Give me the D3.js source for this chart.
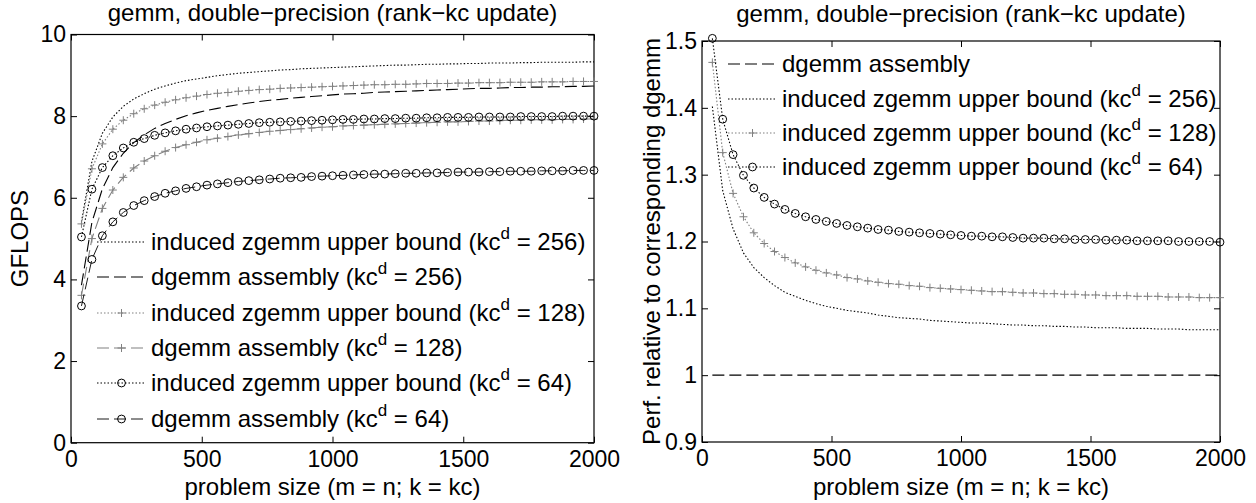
<!DOCTYPE html>
<html>
<head>
<meta charset="utf-8">
<script src="https://cdn.jsdelivr.net/npm/d3@7"></script>
<style>
  body { margin: 0; background: #fff; }
  svg { display: block; }
</style>
</head>
<body>
<svg id="chart" width="1256" height="503"></svg>
<script>
// problem sizes (m = n), shared by every curve
const sizes = [40, 80, 120, 160, 200, 240, 280, 320, 360, 400, 440, 480, 520, 560, 600, 640, 680, 720, 760, 800,
  840, 880, 920, 960, 1000, 1040, 1080, 1120, 1160, 1200, 1240, 1280, 1320, 1360, 1400, 1440, 1480, 1520, 1560, 1600,
  1640, 1680, 1720, 1760, 1800, 1840, 1880, 1920, 1960, 2000];

// left panel: GFLOPS
const zgemmBound256 = [5.41, 6.89, 7.58, 7.98, 8.24, 8.42, 8.55, 8.66, 8.74, 8.81, 8.87, 8.91, 8.95, 8.99, 9.02, 9.05, 9.07, 9.09, 9.11, 9.13,
  9.14, 9.16, 9.17, 9.18, 9.19, 9.20, 9.21, 9.22, 9.23, 9.24, 9.25, 9.25, 9.26, 9.27, 9.27, 9.28, 9.28, 9.29, 9.29, 9.30,
  9.30, 9.30, 9.31, 9.31, 9.32, 9.32, 9.32, 9.32, 9.33, 9.33];
const dgemm256 = [3.86, 5.40, 6.22, 6.74, 7.09, 7.35, 7.54, 7.70, 7.82, 7.92, 8.01, 8.08, 8.14, 8.19, 8.24, 8.28, 8.32, 8.36, 8.39, 8.41,
  8.44, 8.46, 8.48, 8.50, 8.52, 8.54, 8.55, 8.56, 8.58, 8.59, 8.60, 8.61, 8.62, 8.63, 8.64, 8.65, 8.66, 8.67, 8.68, 8.68,
  8.69, 8.70, 8.70, 8.71, 8.71, 8.72, 8.72, 8.73, 8.73, 8.74];
const zgemmBound128 = [5.36, 6.71, 7.32, 7.68, 7.90, 8.06, 8.18, 8.27, 8.34, 8.40, 8.45, 8.49, 8.53, 8.56, 8.58, 8.61, 8.63, 8.65, 8.66, 8.68,
  8.69, 8.70, 8.71, 8.72, 8.73, 8.74, 8.75, 8.76, 8.77, 8.77, 8.78, 8.78, 8.79, 8.80, 8.80, 8.80, 8.81, 8.81, 8.82, 8.82,
  8.82, 8.83, 8.83, 8.83, 8.84, 8.84, 8.84, 8.85, 8.85, 8.85];
const dgemm128 = [3.61, 5.00, 5.74, 6.19, 6.50, 6.73, 6.90, 7.03, 7.14, 7.23, 7.30, 7.36, 7.42, 7.46, 7.50, 7.54, 7.57, 7.60, 7.63, 7.65,
  7.67, 7.69, 7.71, 7.73, 7.74, 7.76, 7.77, 7.78, 7.79, 7.80, 7.81, 7.82, 7.83, 7.84, 7.85, 7.86, 7.86, 7.87, 7.88, 7.88,
  7.89, 7.90, 7.90, 7.91, 7.91, 7.91, 7.92, 7.92, 7.93, 7.93];
const zgemmBound64 = [5.04, 6.21, 6.74, 7.03, 7.22, 7.36, 7.45, 7.53, 7.59, 7.64, 7.68, 7.71, 7.74, 7.76, 7.78, 7.80, 7.82, 7.84, 7.85, 7.86,
  7.87, 7.88, 7.89, 7.90, 7.91, 7.92, 7.92, 7.93, 7.93, 7.94, 7.94, 7.95, 7.95, 7.96, 7.96, 7.97, 7.97, 7.97, 7.98, 7.98,
  7.98, 7.98, 7.99, 7.99, 7.99, 7.99, 8.00, 8.00, 8.00, 8.00];
const dgemm64 = [3.35, 4.49, 5.07, 5.41, 5.64, 5.81, 5.93, 6.03, 6.11, 6.17, 6.23, 6.27, 6.31, 6.34, 6.37, 6.40, 6.42, 6.44, 6.46, 6.48,
  6.49, 6.50, 6.52, 6.53, 6.54, 6.55, 6.56, 6.57, 6.58, 6.58, 6.59, 6.60, 6.60, 6.61, 6.61, 6.62, 6.63, 6.63, 6.63, 6.64,
  6.64, 6.65, 6.65, 6.65, 6.66, 6.66, 6.66, 6.67, 6.67, 6.67];

// right panel: performance relative to the matching dgemm
const relDgemm = [1, 1, 1, 1, 1, 1, 1, 1, 1, 1, 1, 1, 1, 1, 1, 1, 1, 1, 1, 1,
  1, 1, 1, 1, 1, 1, 1, 1, 1, 1, 1, 1, 1, 1, 1, 1, 1, 1, 1, 1,
  1, 1, 1, 1, 1, 1, 1, 1, 1, 1];
const relBound256 = [1.402, 1.276, 1.219, 1.183, 1.161, 1.146, 1.134, 1.124, 1.118, 1.112, 1.107, 1.103, 1.100, 1.097, 1.095, 1.093, 1.090, 1.088, 1.086, 1.085,
  1.084, 1.082, 1.081, 1.080, 1.079, 1.078, 1.078, 1.077, 1.076, 1.075, 1.075, 1.074, 1.074, 1.073, 1.073, 1.072, 1.072, 1.071, 1.071, 1.071,
  1.070, 1.070, 1.070, 1.069, 1.069, 1.069, 1.068, 1.068, 1.068, 1.068];
const relBound128 = [1.468, 1.333, 1.272, 1.237, 1.213, 1.197, 1.185, 1.176, 1.168, 1.162, 1.157, 1.153, 1.150, 1.146, 1.144, 1.141, 1.139, 1.137, 1.136, 1.134,
  1.133, 1.131, 1.130, 1.129, 1.128, 1.127, 1.126, 1.125, 1.125, 1.124, 1.123, 1.123, 1.122, 1.122, 1.121, 1.121, 1.120, 1.120, 1.119, 1.119,
  1.119, 1.118, 1.118, 1.118, 1.117, 1.117, 1.117, 1.116, 1.116, 1.116];
const relBound64 = [1.504, 1.383, 1.330, 1.299, 1.280, 1.266, 1.256, 1.248, 1.242, 1.237, 1.233, 1.230, 1.227, 1.224, 1.222, 1.220, 1.218, 1.217, 1.215, 1.214,
  1.213, 1.212, 1.211, 1.210, 1.209, 1.208, 1.208, 1.207, 1.207, 1.206, 1.205, 1.205, 1.205, 1.204, 1.204, 1.203, 1.203, 1.203, 1.202, 1.202,
  1.202, 1.201, 1.201, 1.201, 1.201, 1.200, 1.200, 1.200, 1.200, 1.199];

const xTicks = [0, 500, 1000, 1500, 2000];
const gflopsTicks = [0, 2, 4, 6, 8, 10];
const relTicks = [0.9, 1, 1.1, 1.2, 1.3, 1.4, 1.5];

const FONT = "'Liberation Sans', Arial, Helvetica, sans-serif";
const FS = 24;      // titles, labels, legend
const TICK_FS = 23; // tick labels
const GRAY = "#808080";
const DOTTED = "1.5,2";
const DASHED = "12,5";

const svg = d3.select("#chart").attr("font-family", FONT);

function drawPanel(cfg) {
  const x = d3.scaleLinear().domain([0, 2000]).range([cfg.left, cfg.right]);
  const y = d3.scaleLinear().domain(cfg.yDomain).range([cfg.bottom, cfg.top]);
  const g = svg.append("g");

  // MATLAB-style box: ticks point inwards on all four sides
  const axes = [
    [d3.axisBottom(x).tickValues(xTicks).tickPadding(8).tickFormat(d3.format("d")), `translate(0,${cfg.bottom})`],
    [d3.axisTop(x).tickValues(xTicks).tickFormat(""), `translate(0,${cfg.top})`],
    [d3.axisLeft(y).tickValues(cfg.yTicks).tickPadding(5).tickFormat(d => String(d)), `translate(${cfg.left},0)`],
    [d3.axisRight(y).tickValues(cfg.yTicks).tickFormat(""), `translate(${cfg.right},0)`]
  ];
  axes.forEach(([ax, tr]) => {
    g.append("g")
      .attr("transform", tr)
      .call(ax.tickSizeInner(-6).tickSizeOuter(0))
      .attr("font-size", TICK_FS)
      .attr("font-family", FONT);
  });
  g.selectAll(".domain").remove();
  g.selectAll(".tick line").attr("stroke", "#000").attr("stroke-width", 1);
  g.selectAll(".tick text").attr("fill", "#000");

  g.append("rect")
    .attr("x", cfg.left).attr("y", cfg.top)
    .attr("width", cfg.right - cfg.left).attr("height", cfg.bottom - cfg.top)
    .attr("fill", "none").attr("stroke", "#000").attr("stroke-width", 1.2);

  const line = d3.line().x((d, i) => x(sizes[i])).y(d => y(d));

  cfg.series.forEach(s => {
    g.append("path")
      .attr("d", line(s.values))
      .attr("fill", "none")
      .attr("stroke", s.color)
      .attr("stroke-width", s.width || 1.1)
      .attr("stroke-dasharray", s.dash);
    if (s.marker) {
      g.append("g").selectAll("path")
        .data(s.values)
        .join("path")
        .attr("transform", (d, i) => `translate(${x(sizes[i])},${y(d)})`)
        .attr("d", s.marker === "o" ? d3.symbol(d3.symbolCircle, 48)() : "M-4,0H4M0,-4V4")
        .attr("fill", "none")
        .attr("stroke", s.color)
        .attr("stroke-width", 1);
    }
  });

  // legend (no box), one row per series
  const lg = cfg.legend;
  cfg.series.forEach((s, i) => {
    const ly = lg.y[i];
    g.append("line")
      .attr("x1", lg.x0).attr("x2", lg.x1).attr("y1", ly).attr("y2", ly)
      .attr("stroke", s.color).attr("stroke-width", s.width || 1.1)
      .attr("stroke-dasharray", s.dash);
    if (s.marker) {
      g.append("path")
        .attr("transform", `translate(${(lg.x0 + lg.x1) / 2},${ly})`)
        .attr("d", s.marker === "o" ? d3.symbol(d3.symbolCircle, 48)() : "M-4,0H4M0,-4V4")
        .attr("fill", "none").attr("stroke", s.color);
    }
    const t = g.append("text")
      .attr("x", lg.x1 + 5).attr("y", ly).attr("dy", "0.35em")
      .attr("font-size", FS).attr("fill", "#000");
    t.append("tspan").text(s.label);
    if (s.kc) {
      t.append("tspan").text(" (kc");
      t.append("tspan").attr("font-size", 17).attr("dy", -11).text("d");
      t.append("tspan").attr("dy", 11).text(` = ${s.kc})`);
    }
  });

  // titles and axis labels
  g.append("text")
    .attr("x", (cfg.left + cfg.right) / 2).attr("y", cfg.titleY)
    .attr("text-anchor", "middle").attr("font-size", FS)
    .text("gemm, double\u2212precision (rank\u2212kc update)");
  g.append("text")
    .attr("x", (cfg.left + cfg.right) / 2).attr("y", 495)
    .attr("text-anchor", "middle").attr("font-size", FS)
    .text("problem size (m = n; k = kc)");
  g.append("text")
    .attr("transform", `translate(${cfg.yLabelX},${(cfg.top + cfg.bottom) / 2}) rotate(-90)`)
    .attr("text-anchor", "middle").attr("font-size", FS)
    .text(cfg.yLabel);
}

drawPanel({
  left: 71, right: 594, top: 34.5, bottom: 442.7,
  yDomain: [0, 10], yTicks: gflopsTicks,
  titleY: 21, yLabel: "GFLOPS", yLabelX: 28,
  legend: { x0: 97, x1: 146, y: [242, 277, 313, 348, 383, 419] },
  series: [
    { values: zgemmBound256, color: "#000", dash: DOTTED, label: "induced zgemm upper bound", kc: 256 },
    { values: dgemm256, color: "#000", dash: DASHED, label: "dgemm assembly", kc: 256 },
    { values: zgemmBound128, color: GRAY, dash: DOTTED, marker: "+", label: "induced zgemm upper bound", kc: 128 },
    { values: dgemm128, color: GRAY, dash: DASHED, marker: "+", label: "dgemm assembly", kc: 128 },
    { values: zgemmBound64, color: "#000", dash: DOTTED, marker: "o", label: "induced zgemm upper bound", kc: 64 },
    { values: dgemm64, color: "#000", dash: DASHED, marker: "o", width: 0.9, label: "dgemm assembly", kc: 64 }
  ]
});

drawPanel({
  left: 702, right: 1220, top: 41, bottom: 442,
  yDomain: [0.9, 1.5], yTicks: relTicks,
  titleY: 22, yLabel: "Perf. relative to corresponding dgemm", yLabelX: 660,
  legend: { x0: 728, x1: 777, y: [64, 99, 133, 167] },
  series: [
    { values: relDgemm, color: "#000", dash: DASHED, label: "dgemm assembly" },
    { values: relBound256, color: "#000", dash: DOTTED, label: "induced zgemm upper bound", kc: 256 },
    { values: relBound128, color: GRAY, dash: DOTTED, marker: "+", label: "induced zgemm upper bound", kc: 128 },
    { values: relBound64, color: "#000", dash: DOTTED, marker: "o", label: "induced zgemm upper bound", kc: 64 }
  ]
});
</script>
</body>
</html>
